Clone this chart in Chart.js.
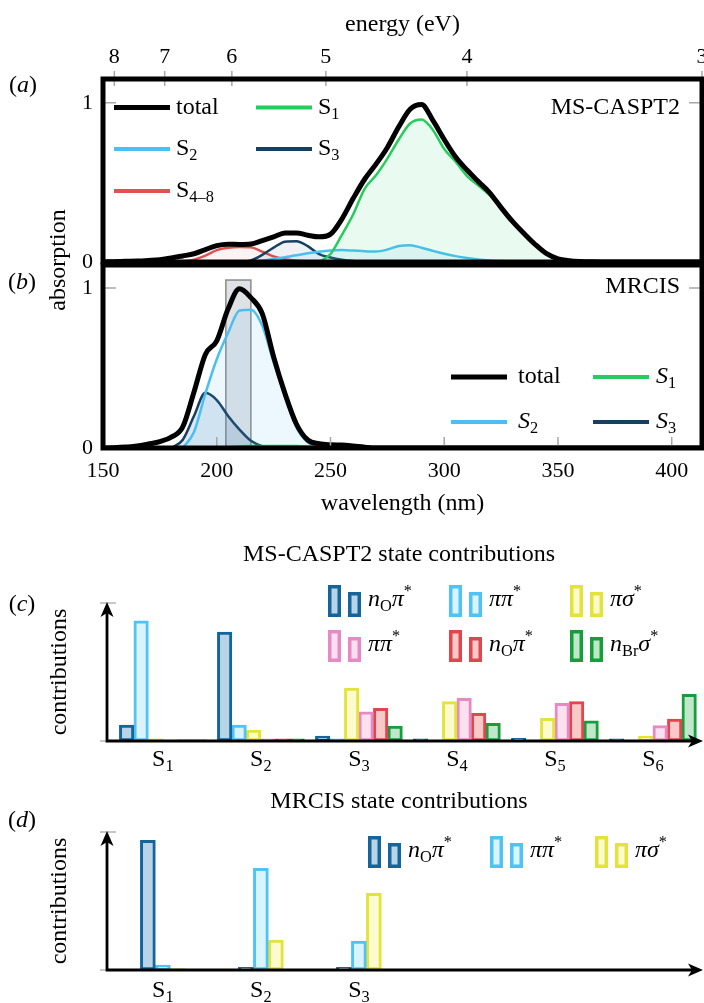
<!DOCTYPE html>
<html>
<head>
<meta charset="utf-8">
<title>absorption spectra and state contributions</title>
<script src="https://cdn.jsdelivr.net/npm/chart.js@4.4.1/dist/chart.umd.min.js"></script>
<style>
  body { margin: 0; background: #fff; }
  #fig { position: relative; width: 704px; height: 1003px; overflow: hidden; background: #fff; }
  #fig canvas { position: absolute; left: 0; }
  .lbl { position: absolute; font-size: 24px; line-height: 1;
         font-family: "Liberation Serif", "DejaVu Serif", "Times New Roman", serif;
         white-space: nowrap; transform: translate(-50%, -50%); color: #000; }
  .rot { transform: translate(-50%, -50%) rotate(-90deg); }
</style>
</head>
<body>
<div id="fig">
  <canvas id="chartA" width="704" height="268" style="top:0px"></canvas>
  <canvas id="chartB" width="704" height="262" style="top:262px"></canvas>
  <canvas id="chartC" width="704" height="250" style="top:530px"></canvas>
  <canvas id="chartD" width="704" height="223" style="top:780px"></canvas>
  <div class="lbl" style="left:23px;top:84px">(<i>a</i>)</div>
  <div class="lbl" style="left:22px;top:281px">(<i>b</i>)</div>
  <div class="lbl" style="left:22px;top:603px">(<i>c</i>)</div>
  <div class="lbl" style="left:22px;top:819px">(<i>d</i>)</div>
  <div class="lbl rot" style="left:57px;top:260px">absorption</div>
  <div class="lbl rot" style="left:58px;top:672px">contributions</div>
  <div class="lbl rot" style="left:58px;top:901px">contributions</div>
</div>
<script>
const SERIF = '"Liberation Serif", "DejaVu Serif", "Times New Roman", serif';
Chart.defaults.font.family = SERIF;

const HC = 1239.84; // eV nm
const WL_MIN = 150, WL_MAX = 413.3;
const wlTicks = [150, 200, 250, 300, 350, 400];
const energyTicks = [8, 7, 6, 5, 4, 3];
const absTicks = [0, 1];

// (a) MS-CASPT2 spectrum
const wlA = [150,155,160,165,170,175,180,185,190,195,200,205,210,215,220,225,230,235,240,245,250,255,260,265,270,275,280,285,290,295,300,305,310,315,320,325,330,335,340,345,350,355,360,365,370,413.3];
const totalA = [0,0.002,0.004,0.006,0.01,0.015,0.025,0.038,0.052,0.078,0.103,0.112,0.11,0.113,0.135,0.158,0.182,0.183,0.168,0.158,0.175,0.27,0.4,0.52,0.615,0.72,0.85,0.96,0.99,0.89,0.77,0.66,0.578,0.505,0.435,0.342,0.255,0.18,0.11,0.052,0.02,0.008,0.003,0.001,0,0];
const s1WlA = [245,250,255,260,265,270,275,280,285,290,295,300,305,310,315,320,325,330,335,340,345,350,355,360,365,370];
const s1A = [0,0.05,0.17,0.3,0.46,0.545,0.65,0.77,0.87,0.895,0.83,0.71,0.63,0.54,0.48,0.42,0.335,0.25,0.178,0.108,0.05,0.02,0.008,0.003,0.001,0];
const s2WlA = [210,215,220,225,230,235,240,245,250,255,260,265,270,275,280,285,290,295,300,305,310,315,320,325,330,335,340];
const s2A = [0,0.003,0.01,0.02,0.03,0.042,0.055,0.065,0.072,0.075,0.072,0.068,0.066,0.078,0.1,0.105,0.09,0.07,0.052,0.037,0.025,0.016,0.01,0.006,0.003,0.001,0];
const s3WlA = [210,215,220,225,230,235,240,245,250,255,260,265,270];
const s3A = [0,0.01,0.045,0.09,0.128,0.13,0.1,0.05,0.028,0.014,0.006,0.002,0];
const s48WlA = [180,185,190,195,200,205,210,215,220,225,230,235,240,245,250,255,350];
const s48A = [0,0.005,0.015,0.04,0.075,0.09,0.095,0.092,0.065,0.035,0.017,0.008,0.004,0.002,0.001,0,0];

// (b) MRCIS spectrum
const wlB = [150,155,160,165,170,175,180,185,190,195,200,205,210,215,220,225,230,235,240,245,250,255,260,265,270,413.3];
const totalB = [0,0.002,0.006,0.012,0.025,0.04,0.068,0.13,0.35,0.585,0.67,0.87,0.995,0.94,0.84,0.57,0.34,0.15,0.05,0.027,0.02,0.018,0.012,0.005,0,0];
const s1WlB = [200,205,210,215,220,225,230,235,240,245,250,255];
const s1B = [0,0.005,0.01,0.012,0.013,0.013,0.013,0.012,0.01,0.007,0.004,0];
const s2WlB = [185,190,195,200,205,210,215,220,225,230,235,240,245,250];
const s2B = [0,0.1,0.34,0.555,0.72,0.86,0.865,0.765,0.535,0.33,0.13,0.035,0.008,0];
const s3WlB = [180,185,190,195,200,205,210,215,220,225,230];
const s3B = [0,0.05,0.2,0.345,0.3,0.2,0.115,0.045,0.012,0.002,0];
const boxWl = [204, 215];   // highlighted wavelength window
const boxTop = 1.05;

// (c) MS-CASPT2 state contributions, states S1..S6
const statesC = ['1', '2', '3', '4', '5', '6'];
const cNOpi   = [0.116, 0.79, 0.036, 0.015, 0.02, 0.015];
const cPiPi   = [0.87, 0.116, 0.015, 0.005, 0.005, 0.005];
const cPiSig  = [0.015, 0.08, 0.384, 0.285, 0.164, 0.036];
const cPiPi2  = [0.005, 0.015, 0.212, 0.309, 0.273, 0.111];
const cNOpi2  = [0.008, 0.015, 0.237, 0.2, 0.285, 0.159];
const cNBrSig = [0.008, 0.015, 0.109, 0.128, 0.147, 0.338];

// (d) MRCIS state contributions, states S1..S3
const statesD = ['1', '2', '3'];
const dNOpi  = [0.94, 0.02, 0.02];
const dPiPi  = [0.036, 0.737, 0.21];
const dPiSig = [0.01, 0.217, 0.556];

// character labels as [text, style] runs
const LBL = {
  nOpi:  [['n', 'i'], ['O', 'sub'], ['\u03c0', 'i'], ['*', 'sup']],
  pipi:  [['\u03c0\u03c0', 'i'], ['*', 'sup']],
  pisig: [['\u03c0\u03c3', 'i'], ['*', 'sup']],
  nBrsig:[['n', 'i'], ['Br', 'sub'], ['\u03c3', 'i'], ['*', 'sup']]
};

const COL = { total: '#000000', s1: '#27cc5c', s2: '#4bbff2', s3: '#173f60', s48: '#e05252' };
const BAR = {
  nOpi:   { stroke: '#15659a', fill: '#b9d4e7' },
  pipi:   { stroke: '#4fc3f3', fill: '#d9f4fd' },
  pisig:  { stroke: '#e3e33a', fill: '#fbfbcf' },
  pipi2:  { stroke: '#e68ac6', fill: '#fbe1ef' },
  nOpi2:  { stroke: '#e0464b', fill: '#f8c9c9' },
  nBrsig: { stroke: '#179e3c', fill: '#c1e7ca' }
};

const TXT = 24;
const fontTick = { family: SERIF, size: 22, weight: 'normal' };
const fontText = { family: SERIF, size: TXT, weight: 'normal' };

// draws runs of text with italic / subscript / superscript parts
function rich(ctx, parts, x, y, align, size) {
  const segs = parts.map(([t, m]) => {
    const small = m.includes('sub') || m.includes('sup');
    const fs = small ? size * 0.68 : size;
    const font = (m === 'i' ? 'italic ' : '') + fs + 'px ' + SERIF;
    ctx.font = font;
    const dy = m.includes('sub') ? size * 0.3 : (m.includes('sup') ? -size * 0.36 : 0);
    return { t, font, dy, w: ctx.measureText(t).width };
  });
  const total = segs.reduce((s, g) => s + g.w, 0);
  let cx = align === 'center' ? x - total / 2 : (align === 'right' ? x - total : x);
  ctx.textAlign = 'left';
  ctx.textBaseline = 'middle';
  segs.forEach(g => { ctx.font = g.font; ctx.fillText(g.t, cx, y + g.dy); cx += g.w; });
}

function curve(xs, ys, color, width, fill) {
  return {
    data: xs.map((x, i) => ({ x, y: ys[i] })),
    borderColor: color,
    borderWidth: width,
    backgroundColor: fill || 'transparent',
    fill: fill ? 'origin' : false,
    pointRadius: 0,
    cubicInterpolationMode: 'monotone'
  };
}

function yAbs(max) {
  return {
    type: 'linear', min: 0, max: max, bounds: 'data',
    grid: { display: false, drawTicks: false }, border: { display: false },
    afterBuildTicks: s => { s.ticks = absTicks.map(v => ({ value: v })); },
    ticks: { font: fontTick, color: '#000', padding: 10 },
    afterFit: s => { s.width = 103; s.paddingTop = 0; s.paddingBottom = 0; }
  };
}

function lineKey(ctx, x1, x2, y, color, w) {
  ctx.strokeStyle = color; ctx.lineWidth = w; ctx.lineCap = 'butt';
  ctx.beginPath(); ctx.moveTo(x1, y); ctx.lineTo(x2, y); ctx.stroke();
}

function drawFrame(chart, topTicks, bottomTicks) {
  const { ctx, chartArea: a, scales } = chart;
  ctx.save();
  ctx.strokeStyle = '#a8a8a8'; ctx.lineWidth = 1.5;
  ctx.beginPath();
  if (topTicks) scales.xTop.ticks.forEach(t => {
    const x = scales.xTop.getPixelForValue(t.value);
    ctx.moveTo(x, a.top - 8); ctx.lineTo(x, a.top + 7);
  });
  if (bottomTicks) scales.x.ticks.forEach(t => {
    const x = scales.x.getPixelForValue(t.value);
    ctx.moveTo(x, a.bottom); ctx.lineTo(x, a.bottom - 11);
  });
  const y1 = scales.y.getPixelForValue(1);
  ctx.moveTo(a.left, y1); ctx.lineTo(a.left + 13, y1);
  ctx.moveTo(a.right, y1); ctx.lineTo(a.right - 13, y1);
  ctx.stroke();
  ctx.strokeStyle = '#000'; ctx.lineWidth = 5;
  ctx.strokeRect(a.left, a.top, a.right - a.left, a.bottom - a.top);
  ctx.restore();
}

// ---------- (a) ----------
new Chart(document.getElementById('chartA'), {
  type: 'line',
  data: { datasets: [
    curve(wlA, totalA, COL.total, 5, null),
    curve(s1WlA, s1A, COL.s1, 2.5, 'rgba(40,210,120,0.10)'),
    curve(s2WlA, s2A, COL.s2, 2.5, 'rgba(75,190,242,0.10)'),
    curve(s3WlA, s3A, COL.s3, 2.5, 'rgba(23,63,96,0.07)'),
    curve(s48WlA, s48A, COL.s48, 2.5, 'rgba(224,82,82,0.07)')
  ] },
  options: {
    responsive: false, animation: false, events: [],
    layout: { padding: { left: 0, right: 2, top: 0, bottom: 6 } },
    plugins: { legend: { display: false }, tooltip: { enabled: false } },
    scales: {
      x: { type: 'linear', min: WL_MIN, max: WL_MAX, bounds: 'data', display: false },
      xTop: {
        type: 'linear', position: 'top', min: WL_MIN, max: WL_MAX, bounds: 'data',
        grid: { display: false, drawTicks: false }, border: { display: false },
        afterBuildTicks: s => { s.ticks = energyTicks.map(e => ({ value: HC / e })); },
        ticks: { font: fontTick, color: '#000', padding: 9, autoSkip: false, maxRotation: 0,
                 callback: (v, i) => String(energyTicks[i]) },
        title: { display: true, text: 'energy (eV)', font: fontText, color: '#000', padding: { top: 10.6, bottom: 0 } },
        afterFit: s => { s.height = 79; s.paddingLeft = 0; s.paddingRight = 0; }
      },
      y: yAbs(1.15)
    }
  },
  plugins: [{
    id: 'decorA',
    afterDatasetsDraw(chart) { drawFrame(chart, true, false); },
    afterDraw(chart) {
      const ctx = chart.ctx;
      ctx.save();
      const keys = [
        { parts: [['total', '']], color: COL.total, w: 5, x: 114, y: 107.5 },
        { parts: [['S', ''], ['1', 'sub']], color: COL.s1, w: 4, x: 256, y: 107.5 },
        { parts: [['S', ''], ['2', 'sub']], color: COL.s2, w: 4, x: 114, y: 149 },
        { parts: [['S', ''], ['3', 'sub']], color: COL.s3, w: 4, x: 256, y: 149 },
        { parts: [['S', ''], ['4\u20138', 'sub']], color: COL.s48, w: 4, x: 114, y: 191 }
      ];
      keys.forEach(k => {
        lineKey(ctx, k.x, k.x + 56, k.y, k.color, k.w);
        ctx.fillStyle = '#000';
        rich(ctx, k.parts, k.x + 62, k.y, 'left', TXT);
      });
      rich(ctx, [['MS-CASPT2', '']], 680, 107.5, 'right', TXT);
      ctx.restore();
    }
  }]
});

// ---------- (b) ----------
new Chart(document.getElementById('chartB'), {
  type: 'line',
  data: { datasets: [
    curve(wlB, totalB, COL.total, 5, null),
    curve(s1WlB, s1B, COL.s1, 2.5, 'rgba(40,210,120,0.10)'),
    curve(s2WlB, s2B, COL.s2, 2.5, 'rgba(75,190,242,0.10)'),
    curve(s3WlB, s3B, COL.s3, 2.5, 'rgba(40,100,160,0.15)')
  ] },
  options: {
    responsive: false, animation: false, events: [],
    layout: { padding: { left: 0, right: 2, top: 3, bottom: 0 } },
    plugins: { legend: { display: false }, tooltip: { enabled: false } },
    scales: {
      x: {
        type: 'linear', position: 'bottom', min: WL_MIN, max: WL_MAX, bounds: 'data',
        grid: { display: false, drawTicks: false }, border: { display: false },
        afterBuildTicks: s => { s.ticks = wlTicks.map(v => ({ value: v })); },
        ticks: { font: fontTick, color: '#000', padding: 10, autoSkip: false, maxRotation: 0 },
        title: { display: true, text: 'wavelength (nm)', font: fontText, color: '#000', padding: { top: 0, bottom: 5.6 } },
        afterFit: s => { s.height = 76; s.paddingLeft = 0; s.paddingRight = 0; }
      },
      y: yAbs(1.144)
    }
  },
  plugins: [{
    id: 'decorB',
    beforeDatasetsDraw(chart) {
      const { ctx, scales: { x, y } } = chart;
      const x0 = x.getPixelForValue(boxWl[0]), x1 = x.getPixelForValue(boxWl[1]);
      const yt = y.getPixelForValue(boxTop), yb = y.getPixelForValue(0);
      ctx.save();
      ctx.fillStyle = 'rgba(140,148,162,0.28)';
      ctx.fillRect(x0, yt, x1 - x0, yb - yt);
      ctx.strokeStyle = '#8a8a8a'; ctx.lineWidth = 1.5;
      ctx.strokeRect(x0, yt, x1 - x0, yb - yt);
      ctx.restore();
    },
    afterDatasetsDraw(chart) { drawFrame(chart, false, true); },
    afterDraw(chart) {
      const ctx = chart.ctx;
      ctx.save();
      const keys = [
        { parts: [['total', '']], color: COL.total, w: 5, x: 451, dx: 67, y: 115 },
        { parts: [['S', 'i'], ['1', 'sub']], color: COL.s1, w: 4, x: 593, dx: 63, y: 115 },
        { parts: [['S', 'i'], ['2', 'sub']], color: COL.s2, w: 4, x: 451, dx: 67, y: 160 },
        { parts: [['S', 'i'], ['3', 'sub']], color: COL.s3, w: 4, x: 593, dx: 63, y: 160 }
      ];
      keys.forEach(k => {
        lineKey(ctx, k.x, k.x + 56, k.y, k.color, k.w);
        ctx.fillStyle = '#000';
        rich(ctx, k.parts, k.x + k.dx, k.y, 'left', TXT);
      });
      rich(ctx, [['MRCIS', '']], 680, 25, 'right', TXT);
      ctx.restore();
    }
  }]
});

// ---------- bar panels ----------
function barSet(values, style, thick) {
  return {
    data: values.map((v, i) => ({ x: i + 1, y: v })),
    borderColor: style.stroke, backgroundColor: style.fill,
    borderWidth: 3, borderSkipped: false, barThickness: thick
  };
}

function arrowHead(ctx, x, y, rot) {
  ctx.save();
  ctx.translate(x, y); ctx.rotate(rot);
  ctx.beginPath();
  ctx.moveTo(0, 0); ctx.lineTo(-6.5, 15); ctx.lineTo(0, 11); ctx.lineTo(6.5, 15);
  ctx.closePath(); ctx.fill();
  ctx.restore();
}

function barKey(ctx, x, yb, style) {
  [[0, 32], [20, 25]].forEach(([dx, h]) => {
    ctx.fillStyle = style.fill;
    ctx.fillRect(x + dx, yb - h, 13, h);
    ctx.strokeStyle = style.stroke; ctx.lineWidth = 3.5;
    ctx.strokeRect(x + dx + 1.75, yb - h + 1.75, 13 - 3.5, h - 3.5);
  });
}

function barPlugin(states, labelDy, keys) {
  return {
    id: 'barDecor',
    afterDatasetsDraw(chart) {
      const { ctx, chartArea: a, scales: { x, y } } = chart;
      const y0 = y.getPixelForValue(0), y1 = y.getPixelForValue(1);
      ctx.save();
      ctx.strokeStyle = '#b5b5b5'; ctx.lineWidth = 1.5;
      ctx.beginPath();
      ctx.moveTo(a.left - 7, y1); ctx.lineTo(a.left + 9, y1);
      ctx.moveTo(a.left - 7, y0); ctx.lineTo(a.left, y0);
      ctx.stroke();
      ctx.strokeStyle = '#000'; ctx.fillStyle = '#000'; ctx.lineWidth = 2.8;
      ctx.beginPath();
      ctx.moveTo(a.left, y0 + 1.4); ctx.lineTo(a.left, y1 + 10);
      ctx.moveTo(a.left - 1.4, y0); ctx.lineTo(a.right, y0);
      ctx.stroke();
      arrowHead(ctx, a.left, y1 - 1, 0);
      arrowHead(ctx, a.right + 5, y0, Math.PI / 2);
      ctx.fillStyle = '#000';
      states.forEach((s, i) => rich(ctx, [['S', ''], [s, 'sub']], x.getPixelForValue(i + 1), y0 + labelDy, 'center', TXT));
      keys.forEach(k => {
        barKey(ctx, k.x, k.yb, k.style);
        ctx.fillStyle = '#000';
        rich(ctx, k.parts, k.x + 40, k.yb - 17, 'left', TXT);
      });
      ctx.restore();
    }
  };
}

function barOptions(title, titlePad, bottomPad) {
  return {
    responsive: false, animation: false, events: [],
    layout: { padding: { left: 100, right: 6, top: 0, bottom: bottomPad } },
    plugins: {
      legend: { display: false }, tooltip: { enabled: false },
      title: { display: true, text: title, font: fontText, color: '#000', padding: titlePad }
    },
    scales: {
      x: { type: 'linear', min: 0.43, max: 6.46, bounds: 'data', offset: false, display: false },
      y: {
        type: 'linear', min: 0, max: 1, bounds: 'data',
        grid: { display: false, drawTicks: false }, border: { display: false },
        afterBuildTicks: s => { s.ticks = absTicks.map(v => ({ value: v })); },
        ticks: { font: fontTick, color: '#000', padding: 13 },
        afterFit: s => { s.width = 7; s.paddingTop = 0; s.paddingBottom = 0; }
      }
    }
  };
}

// (c) canvas starts at page y 530
new Chart(document.getElementById('chartC'), {
  type: 'bar',
  data: { datasets: [
    barSet(cNOpi, BAR.nOpi, 14.5),
    barSet(cPiPi, BAR.pipi, 14.5),
    barSet(cPiSig, BAR.pisig, 14.5),
    barSet(cPiPi2, BAR.pipi2, 14.5),
    barSet(cNOpi2, BAR.nOpi2, 14.5),
    barSet(cNBrSig, BAR.nBrsig, 14.5)
  ] },
  options: barOptions('MS-CASPT2 state contributions', { top: 10.6, bottom: 33.6 }, 39),
  plugins: [barPlugin(statesC, 19, [
    { x: 328, yb: 87, style: BAR.nOpi, parts: LBL.nOpi },
    { x: 449, yb: 87, style: BAR.pipi, parts: LBL.pipi },
    { x: 570, yb: 87, style: BAR.pisig, parts: LBL.pisig },
    { x: 328, yb: 132, style: BAR.pipi2, parts: LBL.pipi },
    { x: 449, yb: 132, style: BAR.nOpi2, parts: LBL.nOpi },
    { x: 570, yb: 132, style: BAR.nBrsig, parts: LBL.nBrsig }
  ])]
});

// (d) canvas starts at page y 780
new Chart(document.getElementById('chartD'), {
  type: 'bar',
  data: { datasets: [
    barSet(dNOpi, BAR.nOpi, 15),
    barSet(dPiPi, BAR.pipi, 15),
    barSet(dPiSig, BAR.pisig, 15)
  ] },
  options: barOptions('MRCIS state contributions', { top: 7.6, bottom: 15.6 }, 33),
  plugins: [barPlugin(statesD, 21, [
    { x: 368, yb: 88, style: BAR.nOpi, parts: LBL.nOpi },
    { x: 490, yb: 88, style: BAR.pipi, parts: LBL.pipi },
    { x: 595, yb: 88, style: BAR.pisig, parts: LBL.pisig }
  ])]
});
</script>
</body>
</html>
